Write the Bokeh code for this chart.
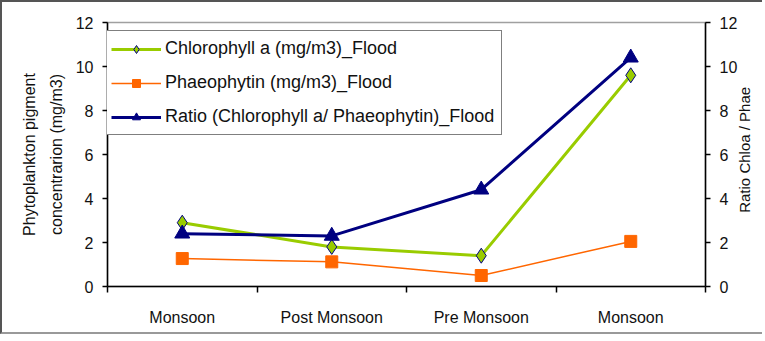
import math
from bokeh.plotting import figure
from bokeh.models import Range1d, LinearAxis, FixedTicker, Legend, LegendItem
from bokeh.embed import file_html
from bokeh.resources import INLINE

seasons = ["Monsoon", "Post Monsoon", "Pre Monsoon", "Monsoon"]
chlorophyll = [2.9, 1.8, 1.4, 9.6]
phaeophytin = [1.27, 1.12, 0.5, 2.05]
ratio = [2.4, 2.3, 4.4, 10.4]
y_ticks = [0, 2, 4, 6, 8, 10, 12]

xs = [i + 0.5 for i in range(len(seasons))]
FONT = "Liberation Sans"

p = figure(width=762, height=334, output_backend="svg", toolbar_location=None,
           x_range=Range1d(0, len(seasons)), y_range=Range1d(0, 12),
           min_border_left=105, min_border_right=57, min_border_top=20, min_border_bottom=50)
p.styles = {"border-left": "2px solid #555", "border-top": "2px solid #555",
            "border-bottom": "2px solid #999", "box-sizing": "border-box"}
p.grid.visible = False
p.outline_line_color = "#a0a0a0"
p.outline_line_width = 1.5
p.background_fill_color = "white"
p.border_fill_color = "white"

p.extra_y_ranges = {"ratio": Range1d(0, 12)}

# x axis
xa = p.xaxis[0]
xa.ticker = FixedTicker(ticks=xs, minor_ticks=list(range(len(seasons) + 1)))
xa.major_label_overrides = {x: s for x, s in zip(xs, seasons)}
xa.major_tick_out = 0
xa.major_tick_in = 0
xa.minor_tick_out = 6
xa.minor_tick_in = 0
xa.minor_tick_line_color = "black"
xa.minor_tick_line_width = 1.5
xa.axis_line_color = "black"
xa.axis_line_width = 1.5
xa.major_label_standoff = 16
xa.major_label_text_font = FONT
xa.major_label_text_font_size = "16px"
xa.major_label_text_color = "#111"

# left axis
ya = p.yaxis[0]
ya.ticker = FixedTicker(ticks=y_ticks)
ya.major_tick_out = 5
ya.major_tick_in = 0
ya.major_tick_line_width = 1.5
ya.axis_line_width = 1.5
ya.minor_tick_line_color = None
ya.major_label_standoff = 9
ya.major_label_text_font = FONT
ya.major_label_text_font_size = "16px"
ya.major_label_text_color = "#111"
ya.axis_label = "Phytoplankton pigment\nconcentrarion (mg/m3)"
ya.axis_label_text_font = FONT
ya.axis_label_text_font_size = "16px"
ya.axis_label_text_font_style = "normal"
ya.axis_label_text_color = "#111"
ya.axis_label_text_line_height = 1.6
ya.axis_label_standoff = 8

# right axis (ticks and numbers)
ra = LinearAxis(y_range_name="ratio", ticker=FixedTicker(ticks=y_ticks))
ra.major_tick_out = 5
ra.major_tick_in = 0
ra.major_tick_line_width = 1.5
ra.axis_line_width = 1.5
ra.minor_tick_line_color = None
ra.major_label_standoff = 9
ra.major_label_text_font = FONT
ra.major_label_text_font_size = "16px"
ra.major_label_text_color = "#111"
p.add_layout(ra, "right")

# right axis title, reading bottom-to-top: a single rotated label on a bare axis
TITLE_POS = 3.35
rt = LinearAxis(y_range_name="ratio", ticker=FixedTicker(ticks=[TITLE_POS]))
rt.major_label_overrides = {TITLE_POS: "Ratio Chloa / Phae"}
rt.major_label_orientation = math.pi / 2
rt.axis_line_color = None
rt.major_tick_line_color = None
rt.minor_tick_line_color = None
rt.major_tick_out = 0
rt.major_tick_in = 0
rt.major_label_standoff = 4
rt.major_label_text_font = FONT
rt.major_label_text_font_size = "15px"
rt.major_label_text_color = "#111"
p.add_layout(rt, "right")

GREEN = "#99CC00"
ORANGE = "#FF6600"
NAVY = "#000080"

l1 = p.line(xs, chlorophyll, line_color=GREEN, line_width=3)
m1 = p.scatter(xs, chlorophyll, marker="diamond", size=15, fill_color=GREEN,
               line_color=NAVY, line_width=1)
l2 = p.line(xs, phaeophytin, line_color=ORANGE, line_width=1.5)
m2 = p.scatter(xs, phaeophytin, marker="square", size=12, fill_color=ORANGE,
               line_color=ORANGE)
l3 = p.line(xs, ratio, line_color=NAVY, line_width=3, y_range_name="ratio")
m3 = p.scatter(xs, ratio, marker="triangle", size=15, fill_color=NAVY,
               line_color=NAVY, y_range_name="ratio")

legend = Legend(items=[
    LegendItem(label="Chlorophyll a (mg/m3)_Flood", renderers=[l1, m1]),
    LegendItem(label="Phaeophytin (mg/m3)_Flood", renderers=[l2, m2]),
    LegendItem(label="Ratio (Chlorophyll a/ Phaeophytin)_Flood", renderers=[l3, m3]),
], location=(-4, 151))
legend.margin = 0
legend.padding = 7
legend.spacing = 13
legend.label_height = 20
legend.glyph_height = 20
legend.glyph_width = 50
legend.label_standoff = 4
legend.label_text_font = FONT
legend.label_text_font_size = "18px"
legend.label_text_color = "#111"
legend.border_line_color = "black"
legend.border_line_width = 1.5
legend.background_fill_alpha = 1
p.add_layout(legend, "center")

open("out.html", "w").write(file_html(p, INLINE))
